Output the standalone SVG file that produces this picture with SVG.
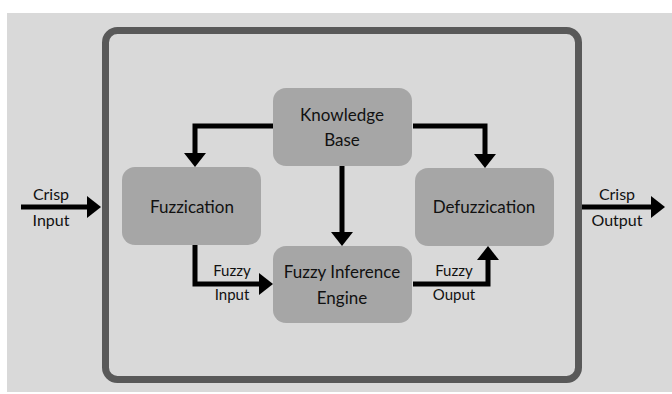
<svg xmlns="http://www.w3.org/2000/svg" width="672" height="394" viewBox="0 0 672 394">
<style>
.node rect{fill:#a6a6a6;}
text{font-family:Lato,"Open Sans","Liberation Sans",sans-serif;fill:#111111;text-anchor:middle;}
.nt{font-size:17px;}
.lt{font-size:16px;}
.st{font-size:15px;}
.conn path{fill:none;stroke:#000;stroke-width:5;stroke-linejoin:miter;marker-end:url(#ah);}
</style>
<defs>
<marker id="ah" markerUnits="userSpaceOnUse" markerWidth="14" markerHeight="22" refX="6" refY="11" orient="auto" viewBox="0 0 14 22">
<path d="M0,0 L14,11 L0,22 z" fill="#000"/>
</marker>
</defs>
<rect x="0" y="0" width="672" height="394" fill="#ffffff"/>
<rect x="7" y="13" width="665" height="379" fill="#d9d9d9"/>
<rect id="frame" x="105.5" y="30.5" width="473" height="349" rx="12" fill="#d9d9d9" stroke="#595959" stroke-width="7"/>
<g class="conn">
<path d="M21,207 H93"/>
<path d="M273,126 H195 V159"/>
<path d="M413,126 H485 V160"/>
<path d="M342,166 V238"/>
<path d="M195,245 V284 H265"/>
<path d="M413,284 H488 V254"/>
<path d="M582,207 H657"/>
</g>
<g id="kb" class="node"><rect x="273" y="88" width="139" height="78" rx="13"/><text class="nt" x="342" y="121">Knowledge</text><text class="nt" x="342" y="146">Base</text></g>
<g id="fuzz" class="node"><rect x="122" y="167" width="139" height="78" rx="13"/><text class="nt" x="192" y="213">Fuzzication</text></g>
<g id="defuzz" class="node"><rect x="415" y="168" width="139" height="78" rx="13"/><text class="nt" x="484" y="213">Defuzzication</text></g>
<g id="fie" class="node"><rect x="273" y="246" width="139" height="77" rx="13"/><text class="nt" x="342" y="278">Fuzzy Inference</text><text class="nt" x="342" y="304">Engine</text></g>
<g id="labels">
<text class="lt" x="51" y="200">Crisp</text><text class="lt" x="51" y="226">Input</text>
<text class="lt" x="617" y="200">Crisp</text><text class="lt" x="617" y="226">Output</text>
<text class="st" x="232" y="276">Fuzzy</text><text class="st" x="232" y="300">Input</text>
<text class="st" x="454" y="276">Fuzzy</text><text class="st" x="454" y="300">Ouput</text>
</g>
</svg>
